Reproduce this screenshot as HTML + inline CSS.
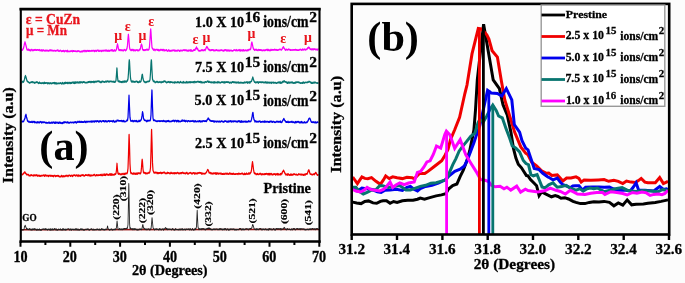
<!DOCTYPE html>
<html><head><meta charset="utf-8"><style>
html,body{margin:0;padding:0;background:#fff;width:685px;height:283px;overflow:hidden}
svg{display:block;will-change:transform;filter:blur(0.35px)}
text{font-family:"Liberation Serif",serif;font-weight:bold}
</style></head><body>
<svg width="685" height="283" viewBox="0 0 685 283">
<rect width="685" height="283" fill="#fcfcfc"/>
<g transform="scale(0.7,1)" fill="none" stroke-linejoin="round">
<path d="M30.71,49.4 L31.43,50.2 L32.14,49.9 L32.86,48.9 L33.57,48.1 L34.29,46.0 L35.00,43.6 L35.71,42.0 L36.43,43.7 L37.14,45.6 L37.86,47.6 L38.57,49.7 L39.29,49.6 L40.00,50.2 L40.71,49.3 L41.43,49.9 L42.14,50.3 L42.86,49.7 L43.57,50.6 L44.29,50.6 L45.00,49.6 L45.71,49.6 L46.43,50.2 L47.14,50.7 L47.86,50.0 L48.57,49.9 L49.29,50.1 L50.00,49.7 L50.71,49.9 L51.43,50.2 L52.14,50.2 L52.86,49.9 L53.57,49.9 L54.29,49.9 L55.00,50.2 L55.71,50.0 L56.43,49.7 L57.14,50.7 L57.86,50.4 L58.57,50.5 L59.29,50.0 L60.00,50.9 L60.71,50.8 L61.43,49.9 L62.14,50.2 L62.86,50.7 L63.57,50.7 L64.29,50.9 L65.00,50.3 L65.71,50.8 L66.43,50.6 L67.14,50.2 L67.86,50.6 L68.57,50.9 L69.29,50.9 L70.00,50.5 L70.71,50.6 L71.43,49.9 L72.14,50.2 L72.86,50.9 L73.57,50.4 L74.29,50.2 L75.00,50.6 L75.71,50.8 L76.43,50.8 L77.14,50.5 L77.86,50.6 L78.57,50.7 L79.29,51.0 L80.00,50.7 L80.71,50.6 L81.43,50.7 L82.14,50.2 L82.86,50.2 L83.57,51.0 L84.29,51.3 L85.00,50.9 L85.71,50.7 L86.43,50.4 L87.14,50.8 L87.86,51.4 L88.57,51.2 L89.29,50.9 L90.00,51.3 L90.71,50.6 L91.43,50.9 L92.14,51.5 L92.86,51.0 L93.57,50.9 L94.29,50.7 L95.00,51.0 L95.71,51.6 L96.43,50.4 L97.14,51.4 L97.86,51.4 L98.57,51.5 L99.29,51.4 L100.00,51.5 L100.71,51.1 L101.43,51.2 L102.14,51.1 L102.86,50.6 L103.57,51.6 L104.29,51.3 L105.00,50.8 L105.71,51.2 L106.43,51.2 L107.14,51.1 L107.86,51.1 L108.57,51.3 L109.29,51.4 L110.00,51.4 L110.71,51.3 L111.43,50.8 L112.14,51.0 L112.86,51.0 L113.57,51.5 L114.29,51.8 L115.00,51.7 L115.71,51.7 L116.43,51.7 L117.14,51.0 L117.86,51.7 L118.57,51.5 L119.29,50.8 L120.00,50.7 L120.71,50.7 L121.43,51.6 L122.14,50.9 L122.86,50.7 L123.57,51.4 L124.29,51.0 L125.00,50.7 L125.71,50.7 L126.43,51.2 L127.14,50.7 L127.86,50.8 L128.57,51.3 L129.29,51.0 L130.00,50.9 L130.71,51.0 L131.43,50.5 L132.14,50.9 L132.86,50.9 L133.57,50.6 L134.29,50.5 L135.00,51.4 L135.71,51.0 L136.43,50.6 L137.14,51.0 L137.86,51.3 L138.57,50.3 L139.29,50.3 L140.00,50.4 L140.71,51.1 L141.43,50.4 L142.14,51.1 L142.86,51.0 L143.57,50.8 L144.29,50.4 L145.00,51.3 L145.71,51.1 L146.43,50.7 L147.14,50.4 L147.86,50.9 L148.57,50.5 L149.29,50.7 L150.00,50.4 L150.71,50.8 L151.43,50.1 L152.14,50.3 L152.86,51.1 L153.57,51.0 L154.29,50.3 L155.00,51.0 L155.71,50.3 L156.43,51.0 L157.14,50.8 L157.86,50.4 L158.57,50.2 L159.29,49.9 L160.00,50.9 L160.71,49.9 L161.43,50.8 L162.14,51.0 L162.86,50.5 L163.57,50.0 L164.29,50.8 L165.00,50.8 L165.71,50.3 L166.43,49.3 L167.14,46.3 L167.86,44.0 L168.57,46.3 L169.29,48.9 L170.00,50.3 L170.71,50.1 L171.43,49.9 L172.14,49.8 L172.86,50.5 L173.57,50.0 L174.29,50.3 L175.00,50.1 L175.71,50.7 L176.43,50.7 L177.14,49.6 L177.86,49.8 L178.57,49.9 L179.29,50.6 L180.00,50.3 L180.71,49.5 L181.43,48.3 L182.14,45.2 L182.86,38.3 L183.43,34.5 L183.57,35.3 L184.29,40.7 L185.00,47.4 L185.71,49.4 L186.43,49.8 L187.14,50.5 L187.86,49.7 L188.57,50.4 L189.29,49.6 L190.00,49.7 L190.71,50.6 L191.43,49.8 L192.14,50.5 L192.86,50.3 L193.57,50.6 L194.29,50.0 L195.00,50.0 L195.71,49.9 L196.43,50.6 L197.14,50.2 L197.86,50.6 L198.57,50.5 L199.29,49.5 L200.00,49.7 L200.71,48.1 L201.43,45.5 L202.14,44.2 L202.86,45.6 L203.57,49.0 L204.29,50.0 L205.00,50.3 L205.71,49.8 L206.43,50.1 L207.14,50.3 L207.86,49.8 L208.57,50.0 L209.29,49.6 L210.00,49.4 L210.71,49.5 L211.43,50.2 L212.14,49.6 L212.86,49.4 L213.57,46.5 L214.29,39.3 L215.00,30.7 L215.29,29.1 L215.71,32.2 L216.43,40.8 L217.14,47.5 L217.86,48.6 L218.57,49.1 L219.29,50.1 L220.00,49.2 L220.71,49.5 L221.43,50.5 L222.14,49.8 L222.86,49.5 L223.57,49.5 L224.29,49.6 L225.00,50.2 L225.71,49.5 L226.43,50.5 L227.14,49.8 L227.86,50.5 L228.57,50.4 L229.29,49.7 L230.00,49.7 L230.71,50.0 L231.43,49.6 L232.14,50.3 L232.86,49.6 L233.57,49.6 L234.29,50.8 L235.00,50.0 L235.71,50.4 L236.43,50.3 L237.14,50.1 L237.86,49.8 L238.57,50.9 L239.29,51.0 L240.00,51.0 L240.71,50.0 L241.43,50.2 L242.14,50.7 L242.86,51.2 L243.57,50.6 L244.29,50.8 L245.00,50.8 L245.71,50.3 L246.43,50.6 L247.14,50.3 L247.86,50.3 L248.57,50.1 L249.29,50.3 L250.00,51.1 L250.71,50.5 L251.43,50.7 L252.14,50.7 L252.86,51.1 L253.57,50.4 L254.29,50.3 L255.00,50.3 L255.71,50.3 L256.43,51.0 L257.14,51.0 L257.86,50.3 L258.57,50.3 L259.29,50.6 L260.00,50.6 L260.71,50.7 L261.43,50.2 L262.14,50.0 L262.86,50.2 L263.57,50.0 L264.29,50.6 L265.00,50.0 L265.71,50.0 L266.43,50.7 L267.14,50.3 L267.86,50.9 L268.57,50.5 L269.29,50.9 L270.00,50.1 L270.71,50.5 L271.43,50.8 L272.14,50.0 L272.86,51.0 L273.57,50.1 L274.29,50.8 L275.00,51.0 L275.71,50.8 L276.43,50.2 L277.14,49.8 L277.86,50.1 L278.57,50.2 L279.29,48.6 L280.00,48.4 L280.57,47.6 L280.71,47.2 L281.43,48.8 L282.14,48.6 L282.86,49.7 L283.57,50.7 L284.29,50.7 L285.00,50.9 L285.71,50.8 L286.43,50.7 L287.14,50.6 L287.86,50.0 L288.57,50.3 L289.29,50.0 L290.00,50.6 L290.71,50.5 L291.43,50.0 L292.14,49.7 L292.86,50.5 L293.57,49.7 L294.29,48.3 L295.00,47.1 L295.57,46.6 L295.71,47.0 L296.43,47.4 L297.14,48.6 L297.86,49.5 L298.57,49.8 L299.29,49.7 L300.00,50.5 L300.71,50.2 L301.43,50.4 L302.14,49.8 L302.86,50.2 L303.57,49.9 L304.29,49.9 L305.00,50.1 L305.71,50.8 L306.43,50.3 L307.14,50.3 L307.86,50.5 L308.57,50.1 L309.29,49.8 L310.00,50.4 L310.71,50.4 L311.43,50.6 L312.14,50.3 L312.86,50.6 L313.57,50.7 L314.29,50.1 L315.00,50.4 L315.71,50.3 L316.43,50.0 L317.14,50.3 L317.86,50.4 L318.57,50.9 L319.29,50.9 L320.00,50.1 L320.71,50.5 L321.43,49.8 L322.14,49.8 L322.86,50.4 L323.57,50.8 L324.29,49.9 L325.00,50.7 L325.71,50.8 L326.43,50.1 L327.14,50.6 L327.86,50.8 L328.57,50.2 L329.29,50.6 L330.00,50.6 L330.71,50.4 L331.43,50.8 L332.14,50.8 L332.86,50.9 L333.57,50.4 L334.29,49.9 L335.00,50.0 L335.71,50.0 L336.43,50.4 L337.14,50.6 L337.86,49.8 L338.57,50.5 L339.29,50.6 L340.00,50.1 L340.71,50.3 L341.43,49.9 L342.14,50.6 L342.86,49.7 L343.57,50.9 L344.29,50.6 L345.00,50.4 L345.71,50.0 L346.43,50.7 L347.14,50.8 L347.86,49.8 L348.57,50.6 L349.29,50.6 L350.00,50.4 L350.71,50.4 L351.43,50.1 L352.14,50.7 L352.86,50.7 L353.57,50.0 L354.29,50.5 L355.00,50.0 L355.71,49.6 L356.43,49.7 L357.14,49.3 L357.86,49.4 L358.57,47.4 L359.29,43.1 L359.86,42.2 L360.00,42.4 L360.71,44.7 L361.43,47.4 L362.14,49.1 L362.86,49.5 L363.57,50.2 L364.29,49.4 L365.00,49.7 L365.71,50.0 L366.43,49.5 L367.14,50.2 L367.86,50.2 L368.57,50.5 L369.29,49.7 L370.00,49.8 L370.71,50.1 L371.43,49.8 L372.14,50.2 L372.86,49.8 L373.57,50.3 L374.29,50.4 L375.00,50.4 L375.71,50.6 L376.43,50.1 L377.14,50.0 L377.86,50.5 L378.57,50.4 L379.29,50.1 L380.00,49.9 L380.71,49.8 L381.43,49.5 L382.14,50.4 L382.86,49.5 L383.57,50.3 L384.29,50.0 L385.00,50.5 L385.71,50.3 L386.43,50.5 L387.14,49.5 L387.86,50.0 L388.57,50.0 L389.29,49.7 L390.00,50.0 L390.71,49.8 L391.43,50.0 L392.14,49.3 L392.86,49.9 L393.57,49.9 L394.29,49.7 L395.00,49.8 L395.71,50.2 L396.43,50.1 L397.14,49.9 L397.86,50.0 L398.57,49.7 L399.29,49.5 L400.00,49.2 L400.71,49.5 L401.43,49.8 L402.14,49.9 L402.86,49.3 L403.57,48.0 L404.29,47.7 L404.71,46.9 L405.00,46.9 L405.71,48.2 L406.43,48.6 L407.14,49.6 L407.86,50.2 L408.57,49.5 L409.29,49.3 L410.00,49.9 L410.71,49.8 L411.43,49.6 L412.14,49.2 L412.86,49.6 L413.57,49.7 L414.29,49.7 L415.00,50.2 L415.71,49.9 L416.43,50.0 L417.14,50.2 L417.86,50.0 L418.57,49.7 L419.29,50.0 L420.00,49.9 L420.71,49.9 L421.43,49.9 L422.14,49.6 L422.86,49.9 L423.57,49.9 L424.29,50.2 L425.00,50.0 L425.71,50.1 L426.43,50.0 L427.14,50.1 L427.86,49.8 L428.57,49.5 L429.29,49.4 L430.00,49.9 L430.71,50.1 L431.43,49.7 L432.14,49.2 L432.86,50.0 L433.57,49.6 L434.29,49.6 L435.00,49.1 L435.71,49.6 L436.43,49.9 L437.14,49.4 L437.86,49.3 L438.57,49.4 L439.29,48.1 L440.00,47.9 L440.71,47.8 L441.00,47.2 L441.43,47.6 L442.14,47.9 L442.86,49.0 L443.57,49.3 L444.29,49.1 L445.00,49.1 L445.71,49.9 L446.43,49.2 L447.14,48.9 L447.86,49.7 L448.57,49.1 L448.86,49.1 L449.29,49.0 L450.00,49.3 L450.71,49.7 L451.43,49.1 L452.14,49.7 L452.86,49.7 L453.57,49.9 L454.29,49.2 L455.00,49.6" stroke="#f800f8" stroke-width="1.75"/>
<path d="M30.71,82.6 L31.43,82.6 L32.14,81.5 L32.86,81.4 L33.57,82.0 L34.29,81.0 L35.00,79.2 L35.71,76.7 L36.43,75.8 L37.14,77.1 L37.86,79.2 L38.57,80.9 L39.29,81.3 L40.00,82.0 L40.71,82.1 L41.43,82.5 L42.14,82.9 L42.86,82.9 L43.57,82.4 L44.29,82.4 L45.00,82.2 L45.71,81.9 L46.43,81.9 L47.14,82.5 L47.86,82.3 L48.57,82.4 L49.29,83.0 L50.00,82.6 L50.71,82.7 L51.43,82.3 L52.14,82.0 L52.86,82.4 L53.57,82.2 L54.29,82.7 L55.00,83.3 L55.71,82.9 L56.43,82.3 L57.14,83.2 L57.86,83.1 L58.57,83.0 L59.29,83.3 L60.00,83.1 L60.71,83.1 L61.43,82.6 L62.14,83.4 L62.86,83.4 L63.57,82.4 L64.29,83.2 L65.00,83.1 L65.71,82.9 L66.43,83.0 L67.14,82.9 L67.86,83.5 L68.57,83.0 L69.29,83.4 L70.00,82.8 L70.71,83.5 L71.43,83.5 L72.14,83.0 L72.86,83.1 L73.57,83.6 L74.29,83.3 L75.00,83.1 L75.71,82.8 L76.43,82.9 L77.14,83.4 L77.86,82.7 L78.57,83.6 L79.29,82.9 L80.00,83.7 L80.71,83.0 L81.43,83.8 L82.14,83.5 L82.86,83.2 L83.57,83.3 L84.29,83.5 L85.00,83.4 L85.71,83.1 L86.43,82.9 L87.14,83.3 L87.86,83.8 L88.57,83.4 L89.29,82.7 L90.00,83.6 L90.71,83.4 L91.43,83.6 L92.14,82.7 L92.86,83.4 L93.57,82.5 L94.29,83.2 L95.00,82.8 L95.71,82.7 L96.43,83.4 L97.14,82.5 L97.86,83.0 L98.57,83.4 L99.29,82.6 L100.00,82.5 L100.71,83.3 L101.43,82.8 L102.14,83.1 L102.86,82.3 L103.57,82.6 L104.29,82.4 L105.00,83.0 L105.71,82.2 L106.43,83.3 L107.14,82.1 L107.86,83.0 L108.57,82.1 L109.29,82.3 L110.00,83.0 L110.71,82.2 L111.43,82.2 L112.14,82.8 L112.86,82.4 L113.57,82.0 L114.29,83.1 L115.00,82.1 L115.71,81.9 L116.43,82.2 L117.14,82.6 L117.86,82.7 L118.57,81.9 L119.29,82.2 L120.00,81.8 L120.71,82.3 L121.43,82.6 L122.14,82.6 L122.86,82.7 L123.57,82.5 L124.29,82.7 L125.00,82.4 L125.71,82.1 L126.43,81.8 L127.14,82.3 L127.86,81.9 L128.57,81.6 L129.29,82.0 L130.00,82.5 L130.71,81.6 L131.43,82.1 L132.14,81.9 L132.86,82.0 L133.57,81.5 L134.29,82.5 L135.00,81.6 L135.71,82.0 L136.43,81.8 L137.14,81.3 L137.86,81.9 L138.57,81.4 L139.29,81.3 L140.00,81.2 L140.71,81.3 L141.43,81.2 L142.14,81.9 L142.86,81.7 L143.57,82.3 L144.29,82.2 L145.00,82.3 L145.71,81.4 L146.43,81.6 L147.14,81.4 L147.86,81.8 L148.57,81.9 L149.29,82.1 L150.00,82.0 L150.71,81.4 L151.43,81.6 L152.14,81.8 L152.86,81.1 L153.57,81.2 L154.29,81.6 L155.00,81.3 L155.71,82.0 L156.43,81.4 L157.14,81.3 L157.86,81.4 L158.57,81.4 L159.29,81.4 L160.00,81.8 L160.71,81.7 L161.43,81.5 L162.14,81.9 L162.86,81.3 L163.57,82.1 L164.29,82.1 L165.00,81.7 L165.71,80.3 L166.43,74.0 L167.00,68.1 L167.14,68.7 L167.86,77.0 L168.57,81.0 L169.29,81.5 L170.00,81.2 L170.71,81.2 L171.43,82.1 L172.14,81.6 L172.86,81.8 L173.57,82.3 L174.29,81.9 L175.00,81.5 L175.71,82.3 L176.43,81.6 L177.14,81.2 L177.86,82.0 L178.57,81.2 L179.29,81.4 L180.00,82.0 L180.71,81.7 L181.43,80.7 L182.14,80.8 L182.86,78.9 L183.57,72.8 L184.29,62.5 L184.71,60.0 L185.00,61.4 L185.71,70.4 L186.43,78.0 L187.14,80.6 L187.86,81.8 L188.57,81.0 L189.29,81.9 L190.00,81.3 L190.71,81.8 L191.43,81.7 L192.14,81.8 L192.86,82.1 L193.57,81.7 L194.29,81.4 L195.00,81.4 L195.71,81.4 L196.43,82.3 L197.14,82.0 L197.86,82.4 L198.57,82.1 L199.29,81.2 L200.00,81.9 L200.71,81.9 L201.43,81.2 L202.14,78.8 L202.86,75.2 L203.29,74.4 L203.57,74.8 L204.29,78.6 L205.00,80.4 L205.71,81.6 L206.43,81.7 L207.14,82.4 L207.86,82.2 L208.57,82.4 L209.29,82.2 L210.00,81.6 L210.71,81.5 L211.43,81.7 L212.14,81.4 L212.86,81.4 L213.57,81.2 L214.29,79.7 L215.00,73.0 L215.71,63.2 L216.14,60.0 L216.43,60.8 L217.14,70.9 L217.86,79.0 L218.57,80.4 L219.29,81.4 L220.00,81.2 L220.71,81.3 L221.43,82.4 L222.14,82.5 L222.86,82.1 L223.57,81.6 L224.29,81.8 L225.00,81.7 L225.71,82.3 L226.43,82.3 L227.14,82.0 L227.86,82.1 L228.57,81.6 L229.29,82.1 L230.00,82.6 L230.71,82.4 L231.43,81.6 L232.14,82.1 L232.86,82.2 L233.57,81.3 L234.29,81.7 L235.00,81.1 L235.71,81.2 L236.43,81.9 L237.14,81.8 L237.86,82.7 L238.57,82.5 L239.29,82.2 L240.00,81.7 L240.71,82.1 L241.43,81.6 L242.14,82.3 L242.86,82.6 L243.57,81.8 L244.29,82.2 L245.00,82.2 L245.71,82.1 L246.43,82.5 L247.14,82.7 L247.86,82.5 L248.57,82.2 L249.29,82.8 L250.00,82.0 L250.71,82.5 L251.43,82.4 L252.14,82.5 L252.86,82.6 L253.57,81.9 L254.29,82.4 L255.00,82.1 L255.71,82.4 L256.43,82.8 L257.14,82.4 L257.86,81.6 L258.57,82.2 L259.29,82.5 L260.00,82.7 L260.71,82.4 L261.43,82.6 L262.14,81.7 L262.86,82.8 L263.57,82.5 L264.29,82.4 L265.00,82.7 L265.71,82.7 L266.43,81.8 L267.14,82.6 L267.86,82.6 L268.57,81.9 L269.29,82.5 L270.00,82.4 L270.71,81.9 L271.43,82.6 L272.14,81.8 L272.86,82.4 L273.57,82.2 L274.29,82.0 L275.00,82.3 L275.71,82.2 L276.43,81.9 L277.14,82.8 L277.86,81.7 L278.57,81.6 L279.29,82.1 L280.00,82.4 L280.71,81.9 L281.43,81.9 L282.00,81.5 L282.14,81.5 L282.86,81.8 L283.57,81.6 L284.29,81.8 L285.00,82.2 L285.71,81.7 L286.43,81.7 L287.14,82.6 L287.86,81.9 L288.57,82.6 L289.29,82.6 L290.00,82.2 L290.71,82.5 L291.43,82.6 L292.14,82.7 L292.86,81.8 L293.57,81.8 L294.29,82.1 L295.00,82.1 L295.71,81.7 L296.43,81.1 L297.14,81.6 L297.57,81.5 L297.86,82.1 L298.57,81.5 L299.29,82.0 L300.00,82.0 L300.71,82.1 L301.43,82.7 L302.14,82.1 L302.86,82.5 L303.57,82.3 L304.29,82.4 L305.00,82.8 L305.71,81.8 L306.43,82.7 L307.14,82.1 L307.86,82.5 L308.57,82.7 L309.29,82.5 L310.00,82.2 L310.71,82.7 L311.43,81.8 L312.14,82.5 L312.86,82.2 L313.57,82.4 L314.29,82.8 L315.00,82.7 L315.71,82.5 L316.43,82.1 L317.14,82.0 L317.86,82.3 L318.57,82.0 L319.29,82.1 L320.00,82.9 L320.71,81.9 L321.43,82.7 L322.14,82.2 L322.86,82.2 L323.57,82.1 L324.29,81.9 L325.00,82.3 L325.71,82.0 L326.43,82.3 L327.14,82.1 L327.86,82.8 L328.57,82.9 L329.29,82.3 L330.00,82.5 L330.71,82.9 L331.43,82.2 L332.14,81.9 L332.86,82.1 L333.57,82.0 L334.29,82.6 L335.00,82.2 L335.71,82.2 L336.43,82.7 L337.14,82.1 L337.86,82.8 L338.57,82.5 L339.29,82.3 L340.00,82.8 L340.71,82.2 L341.43,82.8 L342.14,82.9 L342.86,82.4 L343.57,82.6 L344.29,82.9 L345.00,82.7 L345.71,82.7 L346.43,82.8 L347.14,82.9 L347.86,82.7 L348.57,83.0 L349.29,82.2 L350.00,82.6 L350.71,82.6 L351.43,82.2 L352.14,82.3 L352.86,82.0 L353.57,83.0 L354.29,82.2 L355.00,82.4 L355.71,82.8 L356.43,82.0 L357.14,82.9 L357.86,81.8 L358.57,81.5 L359.29,81.3 L360.00,79.7 L360.71,78.2 L361.14,77.2 L361.43,77.9 L362.14,79.7 L362.86,81.1 L363.57,82.1 L364.29,82.0 L365.00,82.7 L365.71,82.3 L366.43,82.2 L367.14,82.6 L367.86,82.0 L368.57,82.2 L369.29,83.0 L370.00,82.0 L370.71,82.0 L371.43,82.1 L372.14,82.2 L372.86,82.4 L373.57,82.2 L374.29,82.3 L375.00,82.2 L375.71,82.2 L376.43,82.6 L377.14,82.3 L377.86,82.4 L378.57,82.8 L379.29,82.0 L380.00,82.1 L380.71,82.9 L381.43,82.4 L382.14,82.9 L382.86,82.1 L383.57,82.6 L384.29,83.0 L385.00,82.3 L385.71,82.9 L386.43,82.7 L387.14,82.4 L387.86,83.2 L388.57,82.4 L389.29,82.5 L390.00,82.7 L390.71,82.3 L391.43,83.0 L392.14,82.7 L392.86,82.7 L393.57,82.6 L394.29,83.2 L395.00,83.2 L395.71,83.0 L396.43,82.5 L397.14,82.5 L397.86,82.6 L398.57,82.0 L399.29,82.1 L400.00,83.2 L400.71,82.1 L401.43,83.1 L402.14,82.7 L402.86,82.9 L403.57,81.7 L404.29,81.6 L405.00,81.9 L405.57,81.5 L405.71,80.9 L406.43,81.2 L407.14,81.8 L407.86,81.9 L408.57,82.0 L409.29,82.7 L410.00,82.1 L410.71,83.2 L411.43,82.8 L412.14,82.1 L412.86,83.1 L413.57,82.3 L414.29,82.6 L415.00,82.7 L415.71,82.2 L416.43,82.7 L417.14,82.1 L417.86,82.3 L418.57,83.2 L419.29,83.1 L420.00,82.7 L420.71,82.9 L421.43,83.1 L422.14,82.2 L422.86,82.7 L423.57,82.2 L424.29,82.2 L425.00,82.2 L425.71,82.3 L426.43,82.2 L427.14,82.4 L427.86,82.6 L428.57,82.8 L429.29,83.1 L430.00,83.2 L430.71,83.0 L431.43,82.7 L432.14,83.2 L432.86,82.3 L433.57,82.2 L434.29,83.1 L435.00,82.9 L435.71,82.4 L436.43,82.5 L437.14,82.4 L437.86,82.5 L438.57,82.4 L439.29,82.2 L440.00,82.3 L440.71,82.0 L441.43,81.5 L442.14,81.7 L442.86,82.0 L443.57,82.1 L444.29,82.9 L445.00,83.2 L445.71,82.4 L446.43,83.0 L447.14,83.0 L447.86,82.9 L448.57,82.2 L449.29,82.8 L450.00,82.4 L450.71,82.4 L451.43,82.9 L452.14,83.0 L452.86,82.9 L453.57,83.1 L454.29,83.0 L455.00,82.8" stroke="#087570" stroke-width="1.75"/>
<path d="M30.71,121.3 L31.43,121.7 L32.14,121.4 L32.86,121.6 L33.57,121.5 L34.29,120.4 L35.00,119.2 L35.71,118.2 L36.43,115.3 L37.00,114.8 L37.14,114.5 L37.86,117.1 L38.57,118.7 L39.29,120.9 L40.00,121.2 L40.71,121.8 L41.43,121.3 L42.14,121.9 L42.86,122.3 L43.57,121.9 L44.29,122.2 L45.00,122.1 L45.71,121.4 L46.43,122.3 L47.14,122.1 L47.86,121.8 L48.57,121.5 L49.29,122.5 L50.00,122.0 L50.71,122.3 L51.43,122.6 L52.14,122.4 L52.86,122.6 L53.57,122.0 L54.29,122.5 L55.00,122.1 L55.71,122.7 L56.43,122.7 L57.14,121.7 L57.86,121.8 L58.57,121.9 L59.29,122.8 L60.00,122.2 L60.71,122.4 L61.43,122.1 L62.14,122.3 L62.86,122.2 L63.57,122.2 L64.29,122.5 L65.00,122.5 L65.71,122.9 L66.43,122.6 L67.14,122.9 L67.86,122.9 L68.57,123.0 L69.29,122.7 L70.00,122.1 L70.71,122.9 L71.43,123.1 L72.14,123.0 L72.86,122.6 L73.57,122.8 L74.29,122.2 L75.00,123.0 L75.71,122.7 L76.43,122.4 L77.14,122.1 L77.86,123.1 L78.57,123.2 L79.29,122.2 L80.00,123.0 L80.71,122.6 L81.43,122.3 L82.14,122.5 L82.86,123.1 L83.57,123.2 L84.29,122.2 L85.00,122.9 L85.71,122.3 L86.43,123.0 L87.14,122.6 L87.86,123.2 L88.57,123.3 L89.29,122.7 L90.00,123.3 L90.71,122.4 L91.43,122.1 L92.14,122.7 L92.86,122.0 L93.57,122.2 L94.29,122.5 L95.00,122.7 L95.71,122.1 L96.43,122.0 L97.14,122.9 L97.86,122.3 L98.57,123.0 L99.29,122.9 L100.00,122.3 L100.71,122.4 L101.43,122.4 L102.14,122.5 L102.86,122.5 L103.57,122.4 L104.29,122.5 L105.00,122.8 L105.71,122.3 L106.43,122.2 L107.14,122.5 L107.86,121.9 L108.57,122.0 L109.29,122.8 L110.00,122.2 L110.71,122.2 L111.43,121.5 L112.14,122.0 L112.86,122.2 L113.57,121.5 L114.29,122.2 L115.00,122.2 L115.71,121.5 L116.43,122.1 L117.14,121.9 L117.86,122.2 L118.57,121.8 L119.29,122.2 L120.00,122.2 L120.71,121.3 L121.43,121.3 L122.14,122.1 L122.86,122.4 L123.57,121.5 L124.29,121.7 L125.00,121.9 L125.71,121.5 L126.43,121.6 L127.14,121.5 L127.86,121.5 L128.57,121.8 L129.29,121.4 L130.00,121.5 L130.71,121.9 L131.43,121.0 L132.14,121.7 L132.86,121.8 L133.57,121.3 L134.29,121.2 L135.00,121.9 L135.71,121.2 L136.43,121.1 L137.14,121.4 L137.86,121.7 L138.57,120.9 L139.29,121.2 L140.00,121.2 L140.71,121.8 L141.43,121.3 L142.14,121.7 L142.86,120.9 L143.57,121.1 L144.29,121.5 L145.00,121.8 L145.71,121.2 L146.43,121.0 L147.14,120.8 L147.86,121.3 L148.57,120.9 L149.29,121.6 L150.00,121.7 L150.71,120.9 L151.43,121.0 L152.14,121.6 L152.86,121.4 L153.57,121.6 L154.29,121.1 L155.00,120.8 L155.71,121.0 L156.43,121.6 L157.14,121.0 L157.86,121.1 L158.57,121.1 L159.29,121.1 L160.00,121.1 L160.71,121.7 L161.43,120.8 L162.14,120.6 L162.86,121.8 L163.57,121.7 L164.29,121.8 L165.00,121.1 L165.71,121.6 L166.43,121.4 L167.14,120.3 L167.86,120.7 L168.57,120.3 L169.29,120.8 L170.00,120.8 L170.71,120.9 L171.43,120.8 L172.14,120.9 L172.86,120.8 L173.57,120.6 L174.29,121.3 L175.00,120.9 L175.71,121.5 L176.43,120.6 L177.14,121.6 L177.86,121.3 L178.57,121.6 L179.29,121.5 L180.00,121.4 L180.71,120.9 L181.43,120.1 L182.14,120.5 L182.86,117.2 L183.57,106.5 L184.29,95.4 L185.00,107.0 L185.71,117.6 L186.43,120.1 L187.14,121.2 L187.86,121.0 L188.57,120.7 L189.29,120.7 L190.00,121.5 L190.71,121.0 L191.43,121.4 L192.14,120.9 L192.86,120.7 L193.57,121.1 L194.29,121.5 L195.00,120.7 L195.71,121.4 L196.43,121.6 L197.14,121.4 L197.86,121.4 L198.57,120.4 L199.29,121.2 L200.00,121.4 L200.71,120.3 L201.43,120.2 L202.14,118.9 L202.86,115.7 L203.57,111.9 L203.71,111.9 L204.29,113.8 L205.00,118.3 L205.71,119.5 L206.43,120.2 L207.14,120.4 L207.86,120.5 L208.57,120.4 L209.29,121.5 L210.00,121.4 L210.71,120.5 L211.43,120.9 L212.14,120.6 L212.86,120.6 L213.57,120.5 L214.29,120.6 L215.00,119.7 L215.71,115.0 L216.43,99.7 L217.00,90.2 L217.14,90.8 L217.86,106.9 L218.57,118.0 L219.29,120.3 L220.00,120.4 L220.71,120.2 L221.43,120.4 L222.14,120.8 L222.86,121.1 L223.57,121.3 L224.29,120.9 L225.00,121.4 L225.71,121.2 L226.43,121.0 L227.14,120.9 L227.86,121.1 L228.57,121.3 L229.29,121.0 L230.00,121.3 L230.71,121.0 L231.43,120.8 L232.14,121.1 L232.86,121.3 L233.57,120.6 L234.29,121.0 L235.00,121.0 L235.71,121.5 L236.43,121.6 L237.14,120.9 L237.86,121.6 L238.57,121.4 L239.29,120.8 L240.00,121.1 L240.71,120.6 L241.43,121.5 L242.14,121.3 L242.86,121.6 L243.57,121.5 L244.29,121.3 L245.00,121.4 L245.71,121.2 L246.43,120.6 L247.14,121.2 L247.86,120.5 L248.57,120.7 L249.29,121.5 L250.00,120.6 L250.71,120.6 L251.43,120.7 L252.14,121.6 L252.86,120.8 L253.57,120.6 L254.29,121.6 L255.00,120.7 L255.71,121.6 L256.43,121.3 L257.14,121.5 L257.86,121.6 L258.57,121.1 L259.29,121.2 L260.00,120.1 L260.71,120.9 L261.43,120.5 L262.14,120.6 L262.86,121.0 L263.57,120.4 L264.29,121.3 L265.00,121.6 L265.71,120.6 L266.43,121.0 L267.14,121.3 L267.86,121.6 L268.57,120.9 L269.29,120.8 L270.00,120.9 L270.71,121.4 L271.43,121.5 L272.14,121.1 L272.86,121.1 L273.57,121.1 L274.29,121.1 L275.00,121.1 L275.71,120.7 L276.43,121.2 L277.14,121.8 L277.86,121.1 L278.57,121.5 L279.29,120.8 L280.00,121.5 L280.71,121.6 L281.43,121.5 L282.14,121.3 L282.86,121.2 L283.57,121.4 L284.29,121.7 L285.00,120.8 L285.71,120.8 L286.43,121.6 L287.14,121.8 L287.86,121.3 L288.57,121.2 L289.29,121.5 L290.00,120.9 L290.71,121.0 L291.43,120.9 L292.14,121.3 L292.86,121.0 L293.57,120.9 L294.29,121.3 L295.00,121.4 L295.71,120.0 L296.43,119.6 L297.14,118.3 L297.57,118.2 L297.86,118.7 L298.57,119.2 L299.29,119.9 L300.00,120.5 L300.71,120.5 L301.43,121.2 L302.14,121.1 L302.86,120.9 L303.57,121.1 L304.29,121.1 L305.00,121.7 L305.71,120.9 L306.43,121.9 L307.14,121.3 L307.86,121.5 L308.57,121.3 L309.29,121.8 L310.00,121.7 L310.71,121.4 L311.43,121.3 L312.14,121.6 L312.86,121.8 L313.57,121.3 L314.29,121.7 L315.00,121.9 L315.71,121.4 L316.43,121.1 L317.14,121.1 L317.86,121.7 L318.57,121.6 L319.29,122.0 L320.00,121.8 L320.71,121.1 L321.43,121.0 L322.14,121.1 L322.86,121.0 L323.57,121.7 L324.29,121.9 L325.00,121.9 L325.71,121.1 L326.43,121.9 L327.14,121.2 L327.86,121.3 L328.57,121.7 L329.29,120.9 L330.00,121.0 L330.71,121.8 L331.43,121.2 L332.14,121.3 L332.86,121.6 L333.57,121.7 L334.29,120.9 L335.00,121.3 L335.71,121.4 L336.43,121.5 L337.14,121.1 L337.86,121.6 L338.57,122.0 L339.29,121.3 L340.00,121.5 L340.71,121.0 L341.43,121.2 L342.14,121.7 L342.86,121.0 L343.57,122.0 L344.29,122.0 L345.00,121.0 L345.71,122.0 L346.43,121.4 L347.14,121.8 L347.86,121.8 L348.57,121.3 L349.29,121.7 L350.00,121.7 L350.71,121.9 L351.43,121.2 L352.14,121.8 L352.86,122.1 L353.57,121.7 L354.29,121.6 L355.00,121.0 L355.71,121.5 L356.43,121.3 L357.14,121.7 L357.86,121.5 L358.57,121.1 L359.29,119.5 L360.00,117.3 L360.71,113.7 L361.14,112.6 L361.43,112.6 L362.14,116.9 L362.86,119.7 L363.57,120.4 L364.29,121.8 L365.00,121.0 L365.71,121.3 L366.43,121.8 L367.14,121.7 L367.86,121.7 L368.57,121.8 L369.29,121.6 L370.00,121.4 L370.71,121.3 L371.43,121.2 L372.14,122.0 L372.86,122.0 L373.57,121.8 L374.29,122.0 L375.00,121.6 L375.71,121.5 L376.43,121.6 L377.14,122.2 L377.86,121.2 L378.57,121.8 L379.29,121.5 L380.00,122.1 L380.71,121.6 L381.43,121.6 L382.14,121.7 L382.86,121.9 L383.57,122.1 L384.29,121.6 L385.00,122.2 L385.71,121.4 L386.43,121.6 L387.14,121.4 L387.86,121.4 L388.57,122.2 L389.29,122.1 L390.00,121.5 L390.71,121.5 L391.43,121.8 L392.14,122.2 L392.86,122.3 L393.57,122.2 L394.29,122.0 L395.00,121.5 L395.71,121.8 L396.43,121.5 L397.14,121.9 L397.86,122.0 L398.57,121.5 L399.29,121.6 L400.00,122.2 L400.71,121.3 L401.43,122.2 L402.14,122.3 L402.86,122.1 L403.57,120.9 L404.29,120.2 L405.00,119.2 L405.57,118.7 L405.71,118.9 L406.43,120.0 L407.14,120.8 L407.86,121.1 L408.57,122.2 L409.29,121.9 L410.00,122.1 L410.71,122.2 L411.43,121.4 L412.14,122.3 L412.86,122.2 L413.57,122.0 L414.29,122.1 L415.00,122.0 L415.71,121.7 L416.43,122.1 L417.14,121.5 L417.86,122.1 L418.57,122.3 L419.29,122.0 L420.00,122.2 L420.71,122.7 L421.43,122.6 L422.14,121.7 L422.86,122.5 L423.57,122.3 L424.29,121.6 L425.00,122.0 L425.71,121.8 L426.43,121.7 L427.14,122.2 L427.86,122.7 L428.57,122.0 L429.29,122.6 L430.00,122.4 L430.71,121.7 L431.43,122.6 L432.14,122.3 L432.86,122.7 L433.57,122.5 L434.29,122.5 L435.00,122.0 L435.71,122.6 L436.43,122.7 L437.14,122.6 L437.86,122.1 L438.57,122.4 L439.29,121.8 L440.00,120.9 L440.71,119.7 L441.43,118.5 L442.14,118.3 L442.86,118.6 L443.57,119.9 L444.29,121.4 L445.00,122.1 L445.71,122.2 L446.43,122.1 L447.14,122.4 L447.86,122.0 L448.57,122.3 L449.29,122.6 L450.00,122.2 L450.71,122.0 L451.43,122.8 L452.14,122.6 L452.86,122.2 L453.57,122.2 L454.29,122.4 L455.00,122.5" stroke="#0000e8" stroke-width="1.75"/>
<path d="M30.71,174.5 L31.43,174.3 L32.14,174.6 L32.86,174.1 L33.57,173.4 L34.29,172.9 L35.00,172.6 L35.43,171.9 L35.71,172.4 L36.43,173.2 L37.14,173.5 L37.86,174.6 L38.57,174.6 L39.29,174.6 L40.00,174.6 L40.71,174.7 L41.43,175.6 L42.14,175.5 L42.86,175.5 L43.57,175.5 L44.29,174.8 L45.00,175.0 L45.71,175.4 L46.43,175.5 L47.14,175.7 L47.86,175.8 L48.57,174.8 L49.29,175.5 L50.00,175.6 L50.71,175.4 L51.43,175.0 L52.14,175.4 L52.86,174.9 L53.57,176.0 L54.29,175.9 L55.00,175.5 L55.71,175.3 L56.43,176.0 L57.14,175.6 L57.86,176.0 L58.57,176.0 L59.29,175.6 L60.00,175.5 L60.71,175.7 L61.43,175.5 L62.14,175.2 L62.86,175.4 L63.57,176.1 L64.29,175.1 L65.00,175.2 L65.71,175.9 L66.43,175.5 L67.14,175.8 L67.86,175.7 L68.57,175.6 L69.29,176.4 L70.00,175.5 L70.71,175.7 L71.43,175.5 L72.14,176.0 L72.86,175.6 L73.57,175.7 L74.29,176.2 L75.00,175.7 L75.71,176.0 L76.43,176.5 L77.14,175.5 L77.86,175.5 L78.57,175.7 L79.29,176.4 L80.00,176.2 L80.71,175.8 L81.43,175.9 L82.14,175.7 L82.86,176.1 L83.57,175.6 L84.29,176.4 L85.00,176.7 L85.71,176.7 L86.43,176.5 L87.14,176.7 L87.86,175.6 L88.57,175.9 L89.29,176.7 L90.00,176.4 L90.71,176.0 L91.43,176.6 L92.14,176.2 L92.86,176.4 L93.57,175.8 L94.29,175.6 L95.00,175.9 L95.71,175.5 L96.43,175.8 L97.14,176.5 L97.86,175.7 L98.57,175.3 L99.29,175.3 L100.00,175.5 L100.71,176.2 L101.43,175.7 L102.14,175.6 L102.86,175.3 L103.57,176.4 L104.29,175.7 L105.00,175.4 L105.71,175.2 L106.43,175.2 L107.14,175.3 L107.86,175.9 L108.57,175.3 L109.29,175.1 L110.00,175.6 L110.71,175.3 L111.43,176.2 L112.14,175.1 L112.86,175.6 L113.57,175.9 L114.29,175.4 L115.00,176.1 L115.71,175.5 L116.43,175.2 L117.14,175.4 L117.86,174.9 L118.57,175.4 L119.29,175.1 L120.00,175.9 L120.71,175.8 L121.43,175.4 L122.14,174.8 L122.86,175.1 L123.57,175.0 L124.29,175.0 L125.00,175.0 L125.71,175.7 L126.43,174.8 L127.14,174.7 L127.86,175.7 L128.57,175.3 L129.29,175.8 L130.00,175.1 L130.71,175.7 L131.43,175.3 L132.14,175.5 L132.86,175.4 L133.57,175.1 L134.29,174.6 L135.00,174.7 L135.71,175.5 L136.43,175.5 L137.14,175.5 L137.86,174.8 L138.57,175.2 L139.29,175.3 L140.00,175.1 L140.71,175.3 L141.43,175.0 L142.14,175.1 L142.86,175.1 L143.57,174.6 L144.29,175.4 L145.00,175.4 L145.71,174.3 L146.43,175.4 L147.14,175.3 L147.86,175.0 L148.57,174.2 L149.29,175.2 L150.00,174.3 L150.71,175.3 L151.43,174.9 L152.14,174.2 L152.86,174.3 L153.57,174.8 L154.29,174.7 L155.00,174.9 L155.71,175.1 L156.43,174.2 L157.14,174.0 L157.86,175.1 L158.57,173.9 L159.29,175.0 L160.00,174.0 L160.71,174.8 L161.43,174.8 L162.14,174.9 L162.86,174.4 L163.57,174.8 L164.29,173.9 L165.00,174.3 L165.71,173.4 L166.43,170.1 L167.14,163.5 L167.86,170.0 L168.57,173.5 L169.29,174.0 L170.00,173.5 L170.71,173.6 L171.43,174.3 L172.14,174.1 L172.86,174.6 L173.57,174.3 L174.29,173.7 L175.00,173.9 L175.71,174.4 L176.43,174.0 L177.14,173.4 L177.86,174.3 L178.57,174.3 L179.29,173.3 L180.00,173.7 L180.71,173.3 L181.43,173.5 L182.14,172.1 L182.86,168.3 L183.57,154.3 L184.29,136.0 L184.43,134.6 L185.00,145.0 L185.71,164.1 L186.43,171.6 L187.14,173.3 L187.86,173.2 L188.57,173.3 L189.29,173.9 L190.00,173.9 L190.71,173.1 L191.43,174.1 L192.14,173.3 L192.86,173.4 L193.57,174.1 L194.29,173.5 L195.00,174.0 L195.71,173.2 L196.43,174.0 L197.14,173.2 L197.86,173.1 L198.57,173.5 L199.29,173.2 L200.00,173.4 L200.71,173.6 L201.43,172.4 L202.14,167.4 L202.86,160.4 L203.14,159.5 L203.57,162.0 L204.29,169.1 L205.00,172.6 L205.71,173.0 L206.43,172.6 L207.14,172.9 L207.86,173.6 L208.57,173.0 L209.29,173.5 L210.00,173.7 L210.71,173.2 L211.43,173.2 L212.14,173.0 L212.86,172.5 L213.57,172.8 L214.29,171.4 L215.00,167.8 L215.71,151.2 L216.43,131.0 L216.57,129.6 L217.14,142.1 L217.86,162.9 L218.57,170.4 L219.29,171.6 L220.00,172.8 L220.71,172.5 L221.43,173.0 L222.14,172.4 L222.86,172.4 L223.57,172.5 L224.29,173.3 L225.00,172.6 L225.71,173.5 L226.43,172.8 L227.14,173.1 L227.86,172.8 L228.57,173.1 L229.29,172.5 L230.00,172.8 L230.71,173.5 L231.43,172.6 L232.14,173.1 L232.86,172.7 L233.57,172.7 L234.29,172.3 L235.00,172.3 L235.71,173.4 L236.43,173.3 L237.14,173.2 L237.86,173.3 L238.57,173.4 L239.29,172.5 L240.00,173.0 L240.71,172.9 L241.43,173.0 L242.14,173.5 L242.86,173.3 L243.57,173.5 L244.29,172.5 L245.00,173.1 L245.71,173.2 L246.43,173.3 L247.14,173.1 L247.86,173.4 L248.57,172.8 L249.29,173.5 L250.00,172.9 L250.71,173.1 L251.43,173.5 L252.14,173.3 L252.86,172.8 L253.57,172.7 L254.29,172.8 L255.00,173.2 L255.71,173.7 L256.43,173.5 L257.14,172.9 L257.86,173.0 L258.57,173.5 L259.29,172.8 L260.00,173.0 L260.71,172.5 L261.43,172.7 L262.14,173.2 L262.86,173.4 L263.57,173.3 L264.29,173.0 L265.00,173.7 L265.71,173.3 L266.43,172.7 L267.14,172.6 L267.86,173.7 L268.57,173.8 L269.29,173.7 L270.00,173.3 L270.71,173.0 L271.43,172.7 L272.14,172.9 L272.86,172.9 L273.57,173.7 L274.29,173.7 L275.00,173.6 L275.71,172.8 L276.43,172.9 L277.14,173.0 L277.86,173.8 L278.57,172.8 L279.29,173.6 L280.00,173.5 L280.71,173.3 L281.43,173.8 L282.14,173.0 L282.86,173.3 L283.57,172.9 L284.29,172.8 L285.00,172.7 L285.71,173.1 L286.43,172.8 L287.14,172.8 L287.86,173.9 L288.57,173.1 L289.29,173.8 L290.00,173.5 L290.71,173.6 L291.43,173.5 L292.14,173.8 L292.86,173.7 L293.57,173.4 L294.29,172.8 L295.00,172.2 L295.71,171.1 L296.43,169.9 L296.71,169.7 L297.14,170.0 L297.86,170.7 L298.57,172.6 L299.29,172.9 L300.00,172.7 L300.71,172.9 L301.43,173.8 L302.14,173.1 L302.86,173.3 L303.57,173.6 L304.29,173.9 L305.00,173.2 L305.71,173.3 L306.43,173.4 L307.14,172.9 L307.86,173.9 L308.57,172.9 L309.29,174.1 L310.00,173.1 L310.71,173.1 L311.43,173.9 L312.14,173.9 L312.86,173.2 L313.57,173.6 L314.29,173.5 L315.00,173.8 L315.71,173.2 L316.43,174.0 L317.14,174.2 L317.86,173.8 L318.57,174.1 L319.29,174.1 L320.00,173.5 L320.71,174.0 L321.43,174.0 L322.14,173.7 L322.86,173.2 L323.57,173.8 L324.29,174.1 L325.00,173.4 L325.71,173.8 L326.43,174.1 L327.14,173.8 L327.86,173.1 L328.57,173.8 L329.29,173.4 L330.00,174.1 L330.71,173.9 L331.43,173.5 L332.14,174.2 L332.86,173.9 L333.57,173.5 L334.29,174.1 L335.00,174.2 L335.71,174.2 L336.43,174.2 L337.14,173.9 L337.86,174.0 L338.57,173.9 L339.29,173.8 L340.00,174.3 L340.71,173.6 L341.43,173.3 L342.14,174.0 L342.86,173.8 L343.57,173.8 L344.29,173.9 L345.00,173.5 L345.71,173.4 L346.43,173.3 L347.14,174.2 L347.86,174.3 L348.57,174.1 L349.29,173.4 L350.00,174.4 L350.71,174.2 L351.43,173.8 L352.14,173.2 L352.86,174.2 L353.57,174.0 L354.29,173.9 L355.00,173.2 L355.71,174.0 L356.43,173.1 L357.14,173.6 L357.86,172.9 L358.57,172.2 L359.29,170.1 L360.00,165.1 L360.71,161.8 L361.43,165.2 L362.14,169.4 L362.86,172.3 L363.57,173.5 L364.29,173.1 L365.00,173.7 L365.71,174.4 L366.43,174.2 L367.14,174.4 L367.86,173.7 L368.57,174.2 L369.29,174.3 L370.00,174.3 L370.71,173.9 L371.43,173.6 L372.14,173.5 L372.86,174.5 L373.57,174.6 L374.29,173.8 L375.00,174.4 L375.71,174.0 L376.43,174.3 L377.14,174.5 L377.86,173.9 L378.57,174.3 L379.29,173.8 L380.00,174.2 L380.71,173.6 L381.43,173.9 L382.14,173.9 L382.86,174.7 L383.57,173.7 L384.29,174.5 L385.00,173.7 L385.71,174.8 L386.43,173.8 L387.14,173.7 L387.86,173.9 L388.57,174.8 L389.29,174.4 L390.00,174.7 L390.71,174.3 L391.43,173.8 L392.14,174.1 L392.86,174.2 L393.57,174.9 L394.29,173.9 L395.00,174.0 L395.71,174.7 L396.43,173.8 L397.14,174.9 L397.86,174.0 L398.57,174.4 L399.29,174.5 L400.00,174.8 L400.71,173.7 L401.43,174.6 L402.14,173.5 L402.86,173.6 L403.57,171.7 L404.29,171.4 L404.86,170.7 L405.00,170.3 L405.71,171.2 L406.43,172.2 L407.14,173.5 L407.86,173.9 L408.57,174.9 L409.29,174.5 L410.00,174.2 L410.71,175.0 L411.43,174.0 L412.14,174.1 L412.86,175.0 L413.57,175.0 L414.29,174.7 L415.00,175.1 L415.71,174.0 L416.43,175.0 L417.14,174.8 L417.86,174.7 L418.57,174.9 L419.29,174.1 L420.00,174.2 L420.71,174.1 L421.43,174.5 L422.14,174.6 L422.86,174.6 L423.57,174.4 L424.29,174.9 L425.00,175.0 L425.71,174.9 L426.43,174.0 L427.14,174.2 L427.86,174.3 L428.57,174.3 L429.29,174.7 L430.00,174.3 L430.71,174.8 L431.43,174.4 L432.14,174.5 L432.86,174.9 L433.57,175.2 L434.29,174.3 L435.00,174.4 L435.71,175.2 L436.43,174.2 L437.14,173.9 L437.86,173.9 L438.57,174.2 L439.29,173.0 L440.00,171.7 L440.71,170.1 L440.86,170.1 L441.43,170.1 L442.14,171.9 L442.86,173.7 L443.57,174.1 L444.29,174.1 L445.00,174.5 L445.71,174.6 L446.43,174.5 L447.14,174.6 L447.86,174.2 L448.57,174.0 L449.29,174.5 L450.00,173.7 L450.71,172.6 L450.86,172.7 L451.43,172.6 L452.14,173.7 L452.86,174.6 L453.57,175.2 L454.29,174.8 L455.00,175.4" stroke="#f00000" stroke-width="1.75"/>
</g>
<path d="M21,229.7 L319,229.5" fill="none" stroke="#9a1414" stroke-width="1.5"/>
<path d="M30.71,229.6 L31.43,229.8 L32.14,229.8 L32.86,230.0 L33.57,229.6 L34.29,229.3 L35.00,226.7 L35.71,225.8 L36.14,225.4 L36.43,226.3 L37.14,227.3 L37.86,229.1 L38.57,228.6 L39.29,229.3 L40.00,229.0 L40.71,229.5 L41.43,229.6 L42.14,228.7 L42.86,229.0 L43.57,229.1 L44.29,230.1 L45.00,229.9 L45.71,229.0 L46.43,229.9 L47.14,228.9 L47.86,229.7 L48.57,228.9 L49.29,228.7 L50.00,230.0 L50.71,229.0 L51.43,229.1 L52.14,230.2 L52.86,230.0 L53.57,229.2 L54.29,230.2 L55.00,229.5 L55.71,229.7 L56.43,229.0 L57.14,230.1 L57.86,229.8 L58.57,230.2 L59.29,230.1 L60.00,229.2 L60.71,229.3 L61.43,229.0 L62.14,229.0 L62.86,228.8 L63.57,229.2 L64.29,229.6 L65.00,228.7 L65.71,229.7 L66.43,229.2 L67.14,229.2 L67.86,230.0 L68.57,229.5 L69.29,229.2 L70.00,229.5 L70.71,229.8 L71.43,228.8 L72.14,230.2 L72.86,228.8 L73.57,229.9 L74.29,230.0 L75.00,228.8 L75.71,229.9 L76.43,229.3 L77.14,229.6 L77.86,228.7 L78.57,228.8 L79.29,229.0 L80.00,230.2 L80.71,229.0 L81.43,229.9 L82.14,230.1 L82.86,230.1 L83.57,229.2 L84.29,229.3 L85.00,229.5 L85.71,229.9 L86.43,228.9 L87.14,229.8 L87.86,229.9 L88.57,230.0 L89.29,228.8 L90.00,230.1 L90.71,228.9 L91.43,229.2 L92.14,229.6 L92.86,230.1 L93.57,229.2 L94.29,230.1 L95.00,229.5 L95.71,229.2 L96.43,229.2 L97.14,229.0 L97.86,228.8 L98.57,228.9 L99.29,229.7 L100.00,230.2 L100.71,229.0 L101.43,228.8 L102.14,230.2 L102.86,229.5 L103.57,229.3 L104.29,229.1 L105.00,229.6 L105.71,230.0 L106.43,229.4 L107.14,229.3 L107.86,228.8 L108.57,230.1 L109.29,228.8 L110.00,229.5 L110.71,230.0 L111.43,228.9 L112.14,229.8 L112.86,230.1 L113.57,229.7 L114.29,229.9 L115.00,228.9 L115.71,229.4 L116.43,228.9 L117.14,230.0 L117.86,229.1 L118.57,229.4 L119.29,230.2 L120.00,230.0 L120.71,230.2 L121.43,229.4 L122.14,229.4 L122.86,229.8 L123.57,229.4 L124.29,229.1 L125.00,229.3 L125.71,228.9 L126.43,229.3 L127.14,230.2 L127.86,230.1 L128.57,229.6 L129.29,229.4 L130.00,229.2 L130.71,228.8 L131.43,229.1 L132.14,229.9 L132.86,230.0 L133.57,229.2 L134.29,229.9 L135.00,229.9 L135.71,229.7 L136.43,229.7 L137.14,229.8 L137.86,229.2 L138.57,229.7 L139.29,229.1 L140.00,229.4 L140.71,229.8 L141.43,229.7 L142.14,229.1 L142.86,230.1 L143.57,229.7 L144.29,229.6 L145.00,228.7 L145.71,229.5 L146.43,229.1 L147.14,229.7 L147.86,229.4 L148.57,229.9 L149.29,229.6 L150.00,229.8 L150.71,229.2 L151.43,229.6 L152.14,229.5 L152.86,228.7 L153.57,226.1 L153.71,226.2 L154.29,227.9 L155.00,229.5 L155.71,229.6 L156.43,230.1 L157.14,230.1 L157.86,229.4 L158.57,229.4 L159.29,228.9 L160.00,229.9 L160.71,230.1 L161.43,229.4 L162.14,229.7 L162.86,229.7 L163.57,229.7 L164.29,228.8 L165.00,229.7 L165.71,229.1 L166.43,227.1 L167.14,221.4 L167.29,221.2 L167.86,224.9 L168.57,229.0 L169.29,229.4 L170.00,229.6 L170.71,228.6 L171.43,228.8 L172.14,229.3 L172.86,229.6 L173.57,228.9 L174.29,229.6 L175.00,229.6 L175.71,228.7 L176.43,229.3 L177.14,228.9 L177.86,228.6 L178.57,228.7 L179.29,228.9 L180.00,228.7 L180.71,228.6 L181.43,228.1 L182.14,228.2 L182.86,224.5 L183.57,199.1 L184.00,183.6 L184.29,191.6 L185.00,221.8 L185.71,228.6 L186.43,227.9 L187.14,228.8 L187.86,228.8 L188.57,229.1 L189.29,228.7 L190.00,229.8 L190.71,229.1 L191.43,228.6 L192.14,229.5 L192.86,228.7 L193.57,229.4 L194.29,229.1 L195.00,229.5 L195.71,230.1 L196.43,229.8 L197.14,229.2 L197.86,229.8 L198.57,229.6 L199.29,229.2 L200.00,228.8 L200.71,229.4 L201.43,229.3 L202.14,229.7 L202.86,228.6 L203.57,225.6 L204.00,224.7 L204.29,224.8 L205.00,228.1 L205.71,228.2 L206.43,228.6 L207.14,229.4 L207.86,229.5 L208.57,228.8 L209.29,229.5 L210.00,229.9 L210.71,229.1 L211.43,229.2 L212.14,228.9 L212.86,229.0 L213.57,230.0 L214.29,229.0 L215.00,229.7 L215.71,228.8 L216.43,224.4 L217.14,217.8 L217.29,217.9 L217.86,222.3 L218.57,227.2 L219.29,228.7 L220.00,228.9 L220.71,230.0 L221.43,229.3 L222.14,229.0 L222.86,229.3 L223.57,228.8 L224.29,229.5 L225.00,229.3 L225.71,229.1 L226.43,229.8 L227.14,229.9 L227.86,228.6 L228.57,229.4 L229.29,229.0 L230.00,230.0 L230.71,229.8 L231.43,229.0 L232.14,229.0 L232.86,228.8 L233.57,230.1 L234.29,229.0 L235.00,229.2 L235.71,228.3 L236.43,227.9 L236.57,227.7 L237.14,228.2 L237.86,229.2 L238.57,228.6 L239.29,229.7 L240.00,229.1 L240.71,229.4 L241.43,229.1 L242.14,229.1 L242.86,229.4 L243.57,229.3 L244.29,229.2 L245.00,229.8 L245.71,229.5 L246.43,228.7 L247.14,229.0 L247.86,229.3 L248.57,230.0 L249.29,230.0 L250.00,229.5 L250.71,228.7 L251.43,229.8 L252.14,229.3 L252.86,229.5 L253.57,229.7 L254.29,229.6 L255.00,229.4 L255.71,230.0 L256.43,229.2 L257.14,229.2 L257.86,229.9 L258.57,228.9 L259.29,229.1 L260.00,229.9 L260.71,228.7 L261.43,229.9 L262.14,229.7 L262.86,229.3 L263.57,229.1 L264.29,229.8 L265.00,230.0 L265.71,228.8 L266.43,229.3 L267.14,229.4 L267.86,229.4 L268.57,229.1 L269.29,228.9 L270.00,229.5 L270.71,229.8 L271.43,228.7 L272.14,229.0 L272.86,229.8 L273.57,229.8 L274.29,229.6 L275.00,228.6 L275.71,229.7 L276.43,230.0 L277.14,230.0 L277.86,229.6 L278.57,228.5 L279.29,229.6 L280.00,228.4 L280.71,226.6 L281.43,214.2 L281.71,210.3 L282.14,217.0 L282.86,226.8 L283.57,228.6 L284.29,229.7 L285.00,228.7 L285.71,229.4 L286.43,229.2 L287.14,228.8 L287.86,229.5 L288.57,228.6 L289.29,228.7 L290.00,229.2 L290.71,228.7 L291.43,228.7 L292.14,229.4 L292.86,229.7 L293.57,229.9 L294.29,228.7 L295.00,229.1 L295.71,228.7 L296.43,228.8 L297.14,228.2 L297.71,228.1 L297.86,228.8 L298.57,228.2 L299.29,228.1 L300.00,229.4 L300.71,228.7 L301.43,229.5 L302.14,229.3 L302.86,230.0 L303.57,229.4 L304.29,229.5 L305.00,229.0 L305.71,229.4 L306.43,229.0 L307.14,229.7 L307.86,229.4 L308.57,228.8 L309.29,229.0 L310.00,229.2 L310.71,229.7 L311.43,228.9 L312.14,229.7 L312.86,229.6 L313.57,228.7 L314.29,229.6 L315.00,228.7 L315.71,228.8 L316.43,229.5 L317.14,229.0 L317.86,229.9 L318.57,229.3 L319.29,229.1 L320.00,229.8 L320.71,228.7 L321.43,229.7 L322.14,228.7 L322.86,228.8 L323.57,230.0 L324.29,229.6 L325.00,228.9 L325.71,228.8 L326.43,230.1 L327.14,229.6 L327.86,229.8 L328.57,228.8 L329.29,229.5 L330.00,229.1 L330.71,229.0 L331.43,229.1 L332.14,229.5 L332.86,229.1 L333.57,229.2 L334.29,228.8 L335.00,229.8 L335.71,229.6 L336.43,229.8 L337.14,229.3 L337.86,229.9 L338.57,229.4 L339.29,229.5 L340.00,229.5 L340.71,229.7 L341.43,229.2 L342.14,228.7 L342.86,228.6 L343.57,228.9 L344.29,228.7 L345.00,229.9 L345.71,229.3 L346.43,229.7 L347.14,228.6 L347.86,229.3 L348.57,229.9 L349.29,229.5 L350.00,229.2 L350.71,229.3 L351.43,228.7 L352.14,228.8 L352.86,228.8 L353.57,229.1 L354.29,229.1 L355.00,229.9 L355.71,228.8 L356.43,228.9 L357.14,228.9 L357.86,228.7 L358.57,228.7 L359.29,228.2 L360.00,227.3 L360.71,224.8 L361.29,224.7 L361.43,225.4 L362.14,226.1 L362.86,228.6 L363.57,229.1 L364.29,229.4 L365.00,229.2 L365.71,229.9 L366.43,228.7 L367.14,229.5 L367.86,229.0 L368.57,229.6 L369.29,229.7 L370.00,228.8 L370.71,228.9 L371.43,228.6 L372.14,228.9 L372.86,228.7 L373.57,229.2 L374.29,230.0 L375.00,229.1 L375.71,229.0 L376.43,229.3 L377.14,229.0 L377.86,229.7 L378.57,229.7 L379.29,228.8 L380.00,228.9 L380.71,229.6 L381.43,230.0 L382.14,229.5 L382.86,229.2 L383.57,230.0 L384.29,228.6 L385.00,228.7 L385.71,229.7 L386.43,229.2 L387.14,228.6 L387.86,229.4 L388.57,230.1 L389.29,229.4 L390.00,229.1 L390.71,228.7 L391.43,228.7 L392.14,229.9 L392.86,229.3 L393.57,230.0 L394.29,228.7 L395.00,228.9 L395.71,228.6 L396.43,229.2 L397.14,228.7 L397.86,228.9 L398.57,229.2 L399.29,229.0 L400.00,228.6 L400.71,228.6 L401.43,230.0 L402.14,228.8 L402.86,229.3 L403.57,229.1 L404.29,229.1 L405.00,228.1 L405.71,228.0 L406.29,228.1 L406.43,227.5 L407.14,228.5 L407.86,229.5 L408.57,229.3 L409.29,229.8 L410.00,228.8 L410.71,228.6 L411.43,229.4 L412.14,229.3 L412.86,229.4 L413.57,229.1 L414.29,229.5 L415.00,229.6 L415.71,229.9 L416.43,229.0 L417.14,229.2 L417.86,229.8 L418.57,228.9 L419.29,228.7 L420.00,229.0 L420.71,228.7 L421.43,229.7 L422.14,229.8 L422.86,229.0 L423.57,228.8 L424.29,228.7 L425.00,228.9 L425.71,228.7 L426.43,229.2 L427.14,229.4 L427.86,228.9 L428.57,228.7 L429.29,229.6 L430.00,228.6 L430.71,228.9 L431.43,229.0 L432.14,229.1 L432.86,228.7 L433.57,229.2 L434.29,229.0 L435.00,229.7 L435.71,229.4 L436.43,229.9 L437.14,229.5 L437.86,229.7 L438.57,229.4 L439.29,229.2 L440.00,229.7 L440.71,229.3 L441.43,229.6 L442.00,228.9 L442.14,229.2 L442.86,229.3 L443.57,228.8 L444.29,229.7 L445.00,229.1 L445.71,228.7 L446.43,228.6 L447.14,228.8 L447.86,228.9 L448.57,229.6 L449.29,229.0 L450.00,228.6 L450.71,229.7 L451.43,229.4 L452.14,228.6 L452.86,228.6 L453.57,228.7 L454.29,229.1 L455.00,229.8" transform="scale(0.7,1)" fill="none" stroke="#222" stroke-width="1.25" stroke-linejoin="round"/>
<path d="M19.5,9.15 H320.6 M19.5,241.55 H320.6" stroke="#000" stroke-width="2.6"/><path d="M20.8,7.9 V242.8 M319.5,7.9 V242.8" stroke="#000" stroke-width="2.1"/>
<path d="M20.5,241.5 V246.7 M45.4,241.5 V245.0 M70.3,241.5 V246.7 M95.2,241.5 V245.0 M120.1,241.5 V246.7 M145.0,241.5 V245.0 M169.9,241.5 V246.7 M194.8,241.5 V245.0 M219.7,241.5 V246.7 M244.6,241.5 V245.0 M269.5,241.5 V246.7 M294.4,241.5 V245.0 M319.3,241.5 V246.7" stroke="#000" stroke-width="2"/>
<g fill="none" stroke-width="3" stroke-linejoin="miter">
<path d="M352.7,202.1 L356.7,202.9 L361.1,203.6 L364.8,201.4 L368.5,200.9 L373.0,202.9 L376.7,203.3 L380.4,201.4 L383.0,200.7 L386.5,200.7 L390.1,203.3 L393.6,201.5 L397.1,202.4 L402.4,200.7 L407.7,200.3 L413.0,200.3 L417.5,199.2 L420.3,198.0 L424.5,199.1 L429.8,197.6 L436.2,195.9 L441.5,194.9 L445.8,193.8 L448.5,189.0 L452.7,185.5 L456.9,184.0 L460.1,176.6 L463.3,170.2 L466.5,161.8 L469.6,151.2 L471.8,140.6 L473.9,130.0 L475.5,110.0 L477.3,80.0 L483.6,24.2 L493.2,80.0 L499.4,88.6 L503.0,104.7 L507.2,114.8 L510.9,132.1 L513.4,148.1 L515.9,158.0 L518.3,164.2 L521.5,167.8 L526.4,175.6 L528.0,175.8 L530.5,179.5 L534.2,183.2 L536.6,185.7 L539.1,195.6 L541.6,191.9 L546.5,194.3 L551.5,196.8 L555.2,195.6 L558.0,196.5 L561.0,198.3 L564.8,197.7 L568.5,199.0 L573.0,201.4 L576.0,202.4 L580.4,203.6 L584.9,203.6 L589.3,202.4 L593.8,201.8 L599.0,202.1 L604.1,201.4 L609.4,202.4 L613.9,205.8 L618.3,202.9 L622.8,205.1 L627.2,199.9 L631.7,204.8 L636.1,204.3 L643.4,204.0 L647.9,203.3 L655.3,202.4 L661.2,201.4 L668.0,199.9" stroke="#000"/>
<path d="M352.7,177.0 L357.4,183.6 L361.9,176.9 L364.8,178.4 L367.8,178.7 L371.5,177.6 L376.0,181.3 L380.4,184.3 L383.4,179.9 L385.7,175.9 L389.2,178.6 L392.7,176.8 L397.1,177.7 L402.4,178.6 L406.9,177.3 L412.2,177.7 L414.2,178.8 L419.5,173.5 L424.8,173.5 L428.0,171.4 L433.3,167.2 L437.5,164.0 L441.7,160.8 L444.9,155.5 L448.1,149.2 L450.5,139.6 L454.7,129.8 L459.6,117.4 L464.8,93.8 L467.0,85.0 L472.0,53.9 L478.3,28.5 L481.5,28.9 L486.8,34.8 L488.9,39.1 L492.1,50.7 L497.4,57.1 L501.2,80.0 L504.8,100.0 L509.7,116.0 L514.6,132.1 L520.8,146.9 L525.7,153.1 L528.0,154.8 L531.7,162.2 L536.6,165.9 L541.6,170.9 L546.5,173.3 L548.7,173.0 L551.8,175.5 L557.3,174.9 L562.9,181.0 L566.6,178.0 L570.9,178.0 L576.0,176.9 L578.9,178.4 L581.2,182.1 L584.1,179.9 L590.8,180.2 L598.2,179.9 L604.1,179.6 L608.7,181.3 L613.9,180.2 L618.3,181.3 L622.8,183.6 L626.5,181.0 L631.0,182.1 L635.4,182.5 L638.4,180.6 L641.2,178.4 L644.9,182.1 L647.9,182.8 L655.3,182.8 L659.7,177.6 L663.4,183.6 L668.0,181.3" stroke="#f00000"/>
<path d="M352.7,188.8 L357.4,191.0 L361.9,188.0 L366.3,188.8 L372.2,189.5 L377.4,191.7 L381.1,192.5 L385.0,190.2 L390.1,190.0 L396.3,189.2 L402.4,190.4 L406.9,187.4 L410.4,186.5 L413.9,189.2 L417.5,190.9 L420.3,188.5 L425.6,186.4 L432.0,185.3 L438.3,183.2 L445.3,179.8 L449.5,175.5 L454.8,171.3 L460.1,169.2 L464.4,166.0 L467.5,159.6 L470.7,151.2 L473.9,142.7 L476.0,136.4 L479.7,126.0 L483.3,109.7 L487.6,90.3 L491.2,93.0 L497.3,93.5 L501.9,96.0 L506.3,88.6 L511.8,99.8 L514.3,124.5 L519.6,132.1 L522.0,140.7 L525.7,148.1 L528.0,149.9 L531.7,161.0 L534.2,168.4 L539.1,169.6 L542.8,173.3 L547.8,177.0 L548.7,177.3 L553.0,179.8 L557.3,178.0 L560.4,182.3 L562.9,184.8 L566.6,186.0 L570.3,187.8 L572.8,186.0 L575.2,185.8 L578.9,185.8 L582.6,190.2 L585.6,187.3 L592.3,187.0 L599.0,187.0 L604.1,187.3 L609.4,187.0 L613.2,188.8 L617.6,190.2 L625.8,190.2 L630.2,191.0 L633.2,187.3 L636.1,182.8 L638.4,189.5 L639.7,190.2 L644.9,190.2 L653.8,191.0 L659.7,186.5 L663.4,189.5 L666.4,188.8 L668.0,189.5" stroke="#0000ee"/>
<path d="M352.7,187.3 L355.9,187.3 L359.6,191.7 L363.3,194.0 L367.1,192.5 L371.5,190.2 L376.0,189.5 L379.7,185.8 L382.6,185.8 L388.3,187.4 L393.6,186.5 L399.8,185.6 L406.0,190.0 L410.4,190.0 L414.8,188.3 L420.3,186.4 L425.6,185.3 L430.9,183.2 L436.2,182.8 L441.5,181.1 L446.4,179.8 L449.5,172.4 L452.7,164.9 L455.9,158.6 L459.1,151.2 L462.2,146.9 L466.5,141.6 L470.7,136.4 L474.9,133.2 L477.9,123.0 L479.7,119.5 L483.3,122.1 L486.8,115.9 L490.3,108.9 L492.8,105.0 L496.3,110.6 L498.6,116.0 L502.3,117.8 L506.0,128.4 L509.7,138.3 L512.2,145.7 L515.9,148.1 L519.6,151.9 L523.3,160.5 L526.0,163.5 L528.5,164.7 L530.9,174.6 L533.4,175.8 L537.1,174.6 L539.6,180.7 L542.0,186.9 L545.0,187.8 L548.7,184.8 L553.0,182.9 L557.3,187.2 L561.7,186.6 L566.0,185.4 L570.9,188.5 L576.0,190.2 L579.7,188.8 L583.4,191.0 L587.1,188.8 L590.1,188.0 L593.8,188.8 L597.5,188.0 L601.2,190.2 L604.1,191.7 L610.2,190.2 L615.4,188.8 L622.1,187.6 L627.2,190.2 L631.7,191.0 L636.1,191.4 L643.4,190.5 L650.8,191.0 L658.2,191.7 L662.7,189.5 L665.7,190.2 L668.0,190.2" stroke="#087570"/>
<path d="M352.7,189.5 L355.9,191.0 L360.4,192.0 L364.1,190.2 L367.1,187.3 L370.8,189.5 L375.2,190.2 L379.7,191.0 L383.4,189.5 L386.5,186.5 L390.1,182.1 L392.7,187.4 L396.3,184.7 L399.8,183.0 L404.2,184.7 L408.6,183.0 L414.2,182.0 L417.4,172.4 L420.6,171.4 L423.8,167.2 L426.9,161.9 L430.1,160.8 L433.3,154.5 L436.5,146.0 L440.7,148.1 L444.9,134.3 L446.4,131.2 L449.8,134.7 L454.7,148.3 L460.2,139.7 L465.7,154.6 L470.9,163.2 L476.2,171.6 L480.5,179.5 L485.7,180.5 L488.9,182.0 L491.4,185.3 L495.3,186.8 L500.1,186.2 L504.0,188.8 L506.9,187.2 L510.8,190.1 L516.7,186.2 L520.6,192.1 L525.4,189.2 L528.0,190.6 L537.9,191.9 L545.3,190.6 L550.2,188.1 L556.1,190.3 L560.4,191.5 L565.4,194.0 L570.3,190.3 L573.0,191.7 L577.4,194.0 L584.9,194.4 L590.8,193.2 L596.7,192.5 L602.7,192.5 L604.9,194.4 L610.9,191.7 L616.9,192.5 L622.8,193.5 L627.2,195.0 L632.4,192.5 L636.9,193.2 L641.9,192.0 L646.4,192.9 L650.1,195.4 L653.8,194.4 L658.2,194.0 L662.0,194.7 L664.9,193.5 L668.0,190.2" stroke="#ff00ff"/>
</g>
<g stroke-width="2.8">
<path d="M446.6,131 V234" stroke="#ff00ff"/>
<path d="M479.4,29 V234" stroke="#f00000"/>
<path d="M483.4,25 V234" stroke="#000"/>
<path d="M488.8,90 V234" stroke="#0000ee"/>
<path d="M492.8,105 V234" stroke="#087570"/>
</g>
<rect x="351.7" y="3.9" width="317.5" height="230.6" fill="none" stroke="#000" stroke-width="2.6"/>
<path d="M351.7,234.4 V240.1 M397.0,234.4 V240.1 M442.4,234.4 V240.1 M487.7,234.4 V240.1 M533.0,234.4 V240.1 M578.3,234.4 V240.1 M623.7,234.4 V240.1 M669.0,234.4 V240.1" stroke="#000" stroke-width="2.4"/>
<rect x="541.2" y="5" width="123.6" height="101.3" fill="#fff" stroke="#999" stroke-width="1.4"/>
<path d="M541.5,15.0 H565" stroke="#000" stroke-width="2.8"/>
<path d="M541.5,36.5 H565" stroke="#f00000" stroke-width="2.8"/>
<path d="M541.5,58.0 H565" stroke="#0000ee" stroke-width="2.8"/>
<path d="M541.5,79.5 H565" stroke="#087570" stroke-width="2.8"/>
<path d="M541.5,101.0 H565" stroke="#ff00ff" stroke-width="2.8"/>
<text transform="translate(25.75,24.25) scale(0.906,1.005)" font-size="15" fill="#e8141c" stroke="#e8141c" stroke-width="0.3">ε = CuZn</text>
<text transform="translate(25.98,35.42) scale(0.871,0.977)" font-size="15" fill="#e8141c" stroke="#e8141c" stroke-width="0.3">μ = Mn</text>
<text transform="translate(195.12,27.15) scale(0.941,0.995)" font-size="15" fill="#000" stroke="#000" stroke-width="0.3">1.0 X 10</text>
<text transform="translate(244.65,22.20) scale(1.035,1.020)" font-size="15" fill="#000" stroke="#000" stroke-width="0.3">16</text>
<text transform="translate(263.27,27.40) scale(0.921,1.044)" font-size="15" fill="#000" stroke="#000" stroke-width="0.3">ions/cm</text>
<text transform="translate(309.32,22.40) scale(1.035,1.020)" font-size="15" fill="#000" stroke="#000" stroke-width="0.3">2</text>
<text transform="translate(194.89,72.15) scale(0.946,0.995)" font-size="15" fill="#000" stroke="#000" stroke-width="0.3">7.5 X 10</text>
<text transform="translate(244.65,67.07) scale(1.035,1.020)" font-size="15" fill="#000" stroke="#000" stroke-width="0.3">15</text>
<text transform="translate(263.27,72.40) scale(0.921,1.044)" font-size="15" fill="#000" stroke="#000" stroke-width="0.3">ions/cm</text>
<text transform="translate(309.32,67.40) scale(1.035,1.020)" font-size="15" fill="#000" stroke="#000" stroke-width="0.3">2</text>
<text transform="translate(194.62,105.35) scale(0.951,1.015)" font-size="15" fill="#000" stroke="#000" stroke-width="0.3">5.0 X 10</text>
<text transform="translate(244.65,100.27) scale(1.035,1.020)" font-size="15" fill="#000" stroke="#000" stroke-width="0.3">15</text>
<text transform="translate(263.27,105.60) scale(0.921,1.044)" font-size="15" fill="#000" stroke="#000" stroke-width="0.3">ions/cm</text>
<text transform="translate(309.32,100.60) scale(1.035,1.020)" font-size="15" fill="#000" stroke="#000" stroke-width="0.3">2</text>
<text transform="translate(194.89,148.15) scale(0.946,0.995)" font-size="15" fill="#000" stroke="#000" stroke-width="0.3">2.5 X 10</text>
<text transform="translate(244.65,143.07) scale(1.035,1.020)" font-size="15" fill="#000" stroke="#000" stroke-width="0.3">15</text>
<text transform="translate(263.27,148.40) scale(0.921,1.044)" font-size="15" fill="#000" stroke="#000" stroke-width="0.3">ions/cm</text>
<text transform="translate(309.32,143.40) scale(1.035,1.020)" font-size="15" fill="#000" stroke="#000" stroke-width="0.3">2</text>
<text transform="translate(263.46,192.60) scale(0.950,0.976)" font-size="15" fill="#000" stroke="#000" stroke-width="0.3">Pristine</text>
<text transform="translate(39.34,160.43) scale(1.007,0.991)" font-size="42" fill="#000" stroke="#000" stroke-width="0">(a)</text>
<text transform="translate(367.34,51.12) scale(1.005,1.015)" font-size="42" fill="#000" stroke="#000" stroke-width="0">(b)</text>
<text transform="translate(13.10,183.23) scale(0.924,1.068) rotate(-90)" font-size="15" fill="#000" stroke="#000" stroke-width="0.3">Intensity (a.u)</text>
<text transform="translate(341.34,172.84) scale(1.004,1.077) rotate(-90)" font-size="15" fill="#000" stroke="#000" stroke-width="0.3">Intensity (a.u)</text>
<text transform="translate(131.89,275.28) scale(0.952,0.960)" font-size="15" fill="#000" stroke="#000" stroke-width="0.3">2θ (Degrees)</text>
<text transform="translate(473.63,269.20) scale(1.024,0.953)" font-size="15" fill="#000" stroke="#000" stroke-width="0.3">2θ (Degrees)</text>
<text transform="translate(13.47,261.50) scale(0.943,1.060)" font-size="15" fill="#000" stroke="#000" stroke-width="0.3">10</text>
<text transform="translate(62.81,261.50) scale(0.943,1.060)" font-size="15" fill="#000" stroke="#000" stroke-width="0.3">20</text>
<text transform="translate(112.68,261.50) scale(0.943,1.060)" font-size="15" fill="#000" stroke="#000" stroke-width="0.3">30</text>
<text transform="translate(162.90,261.50) scale(0.943,1.060)" font-size="15" fill="#000" stroke="#000" stroke-width="0.3">40</text>
<text transform="translate(212.63,261.50) scale(0.943,1.060)" font-size="15" fill="#000" stroke="#000" stroke-width="0.3">50</text>
<text transform="translate(262.18,261.50) scale(0.943,1.060)" font-size="15" fill="#000" stroke="#000" stroke-width="0.3">60</text>
<text transform="translate(311.91,261.50) scale(0.943,1.060)" font-size="15" fill="#000" stroke="#000" stroke-width="0.3">70</text>
<text transform="translate(338.42,254.25) scale(1.014,1.005)" font-size="15" fill="#000" stroke="#000" stroke-width="0.3">31.2</text>
<text transform="translate(383.50,254.25) scale(1.014,1.005)" font-size="15" fill="#000" stroke="#000" stroke-width="0.3">31.4</text>
<text transform="translate(428.95,254.25) scale(1.014,1.005)" font-size="15" fill="#000" stroke="#000" stroke-width="0.3">31.6</text>
<text transform="translate(474.28,254.25) scale(1.014,1.005)" font-size="15" fill="#000" stroke="#000" stroke-width="0.3">31.8</text>
<text transform="translate(519.61,254.25) scale(1.014,1.005)" font-size="15" fill="#000" stroke="#000" stroke-width="0.3">32.0</text>
<text transform="translate(565.07,254.25) scale(1.014,1.005)" font-size="15" fill="#000" stroke="#000" stroke-width="0.3">32.2</text>
<text transform="translate(610.15,254.25) scale(1.014,1.005)" font-size="15" fill="#000" stroke="#000" stroke-width="0.3">32.4</text>
<text transform="translate(655.60,254.25) scale(1.014,1.005)" font-size="15" fill="#000" stroke="#000" stroke-width="0.3">32.6</text>
<text transform="translate(118.58,219.69) scale(0.688,0.972) rotate(-90)" font-size="12" fill="#000" stroke="#000" stroke-width="0.25">(220)</text>
<text transform="translate(126.23,201.14) scale(0.688,0.972) rotate(-90)" font-size="12" fill="#000" stroke="#000" stroke-width="0.25">(310)</text>
<text transform="translate(145.28,223.19) scale(0.688,0.972) rotate(-90)" font-size="12" fill="#000" stroke="#000" stroke-width="0.25">(222)</text>
<text transform="translate(153.48,214.99) scale(0.688,0.972) rotate(-90)" font-size="12" fill="#000" stroke="#000" stroke-width="0.25">(320)</text>
<text transform="translate(200.48,208.64) scale(0.688,0.972) rotate(-90)" font-size="12" fill="#000" stroke="#000" stroke-width="0.25">(420)</text>
<text transform="translate(210.98,226.59) scale(0.688,0.972) rotate(-90)" font-size="12" fill="#000" stroke="#000" stroke-width="0.25">(332)</text>
<text transform="translate(254.88,223.49) scale(0.688,0.972) rotate(-90)" font-size="12" fill="#000" stroke="#000" stroke-width="0.25">(521)</text>
<text transform="translate(286.58,224.09) scale(0.688,0.972) rotate(-90)" font-size="12" fill="#000" stroke="#000" stroke-width="0.25">(600)</text>
<text transform="translate(311.33,225.34) scale(0.688,0.972) rotate(-90)" font-size="12" fill="#000" stroke="#000" stroke-width="0.25">(541)</text>
<text transform="translate(22.31,221.38) scale(0.771,0.873)" font-size="12" fill="#000" stroke="#000" stroke-width="0.3">GO</text>
<text transform="translate(114.37,40.28) scale(0.925,0.960)" font-size="15" fill="#e8141c" stroke="#e8141c" stroke-width="0.05">μ</text>
<text transform="translate(124.69,31.36) scale(0.925,0.960)" font-size="15" fill="#e8141c" stroke="#e8141c" stroke-width="0.05">ε</text>
<text transform="translate(138.52,40.28) scale(0.925,0.960)" font-size="15" fill="#e8141c" stroke="#e8141c" stroke-width="0.05">μ</text>
<text transform="translate(148.19,26.06) scale(0.925,0.960)" font-size="15" fill="#e8141c" stroke="#e8141c" stroke-width="0.05">ε</text>
<text transform="translate(192.54,43.76) scale(0.925,0.960)" font-size="15" fill="#e8141c" stroke="#e8141c" stroke-width="0.05">ε</text>
<text transform="translate(202.62,41.53) scale(0.925,0.960)" font-size="15" fill="#e8141c" stroke="#e8141c" stroke-width="0.05">μ</text>
<text transform="translate(247.42,37.88) scale(0.925,0.960)" font-size="15" fill="#e8141c" stroke="#e8141c" stroke-width="0.05">μ</text>
<text transform="translate(280.14,43.06) scale(0.925,0.960)" font-size="15" fill="#e8141c" stroke="#e8141c" stroke-width="0.05">ε</text>
<text transform="translate(303.97,41.53) scale(0.925,0.960)" font-size="15" fill="#e8141c" stroke="#e8141c" stroke-width="0.05">μ</text>
<text transform="translate(565.86,18.00) scale(0.947,0.869)" font-size="12.5" fill="#000" stroke="#000" stroke-width="0.3">Prestine</text>
<text transform="translate(565.63,39.26) scale(0.946,0.953)" font-size="12.5" fill="#000" stroke="#000" stroke-width="0.3">2.5 x 10</text>
<text transform="translate(605.45,34.01) scale(0.950,0.990)" font-size="11.5" fill="#000" stroke="#000" stroke-width="0.3">15</text>
<text transform="translate(620.27,39.50) scale(0.928,0.926)" font-size="12.5" fill="#000" stroke="#000" stroke-width="0.3">ions/cm</text>
<text transform="translate(658.77,34.01) scale(0.950,0.990)" font-size="11.5" fill="#000" stroke="#000" stroke-width="0.3">2</text>
<text transform="translate(565.63,60.76) scale(0.946,0.953)" font-size="12.5" fill="#000" stroke="#000" stroke-width="0.3">5.0 x 10</text>
<text transform="translate(605.45,55.51) scale(0.950,0.990)" font-size="11.5" fill="#000" stroke="#000" stroke-width="0.3">15</text>
<text transform="translate(620.27,61.00) scale(0.928,0.926)" font-size="12.5" fill="#000" stroke="#000" stroke-width="0.3">ions/cm</text>
<text transform="translate(658.77,55.51) scale(0.950,0.990)" font-size="11.5" fill="#000" stroke="#000" stroke-width="0.3">2</text>
<text transform="translate(565.39,82.26) scale(0.952,0.953)" font-size="12.5" fill="#000" stroke="#000" stroke-width="0.3">7.5 x 10</text>
<text transform="translate(605.45,77.01) scale(0.950,0.990)" font-size="11.5" fill="#000" stroke="#000" stroke-width="0.3">15</text>
<text transform="translate(620.27,82.50) scale(0.928,0.926)" font-size="12.5" fill="#000" stroke="#000" stroke-width="0.3">ions/cm</text>
<text transform="translate(658.77,77.01) scale(0.950,0.990)" font-size="11.5" fill="#000" stroke="#000" stroke-width="0.3">2</text>
<text transform="translate(565.96,103.76) scale(0.938,0.953)" font-size="12.5" fill="#000" stroke="#000" stroke-width="0.3">1.0 x 10</text>
<text transform="translate(605.33,98.51) scale(0.950,0.990)" font-size="11.5" fill="#000" stroke="#000" stroke-width="0.3">16</text>
<text transform="translate(620.27,104.00) scale(0.928,0.926)" font-size="12.5" fill="#000" stroke="#000" stroke-width="0.3">ions/cm</text>
<text transform="translate(658.77,98.51) scale(0.950,0.990)" font-size="11.5" fill="#000" stroke="#000" stroke-width="0.3">2</text>
</svg></body></html>
